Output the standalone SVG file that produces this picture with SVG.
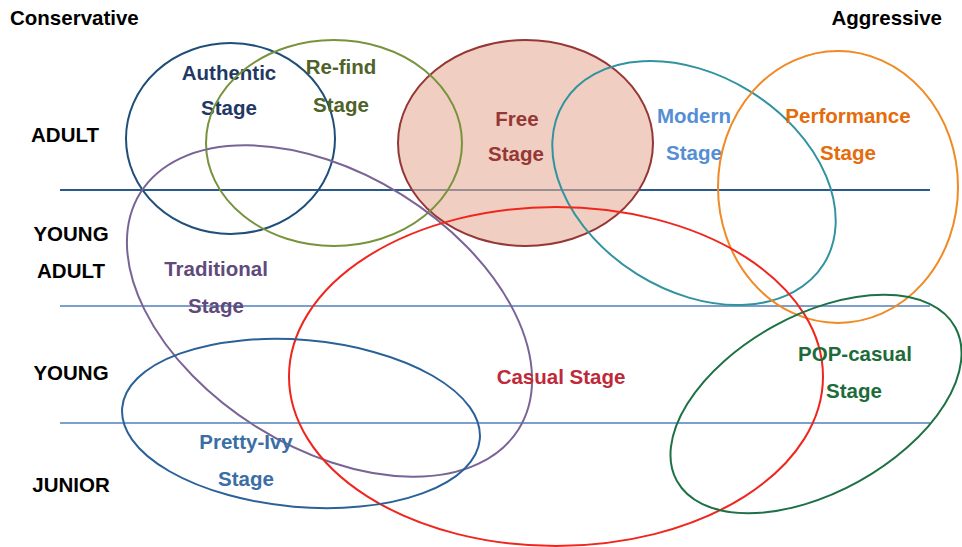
<svg xmlns="http://www.w3.org/2000/svg" width="962" height="547" viewBox="0 0 962 547">
  <style>
    text { font-family: "Liberation Sans", "Noto Sans CJK JP", Arial, sans-serif; font-weight: bold; font-size: 20.5px; }
    .axis { fill: #000000; }
    .row { fill: #000000; text-anchor: middle; }
    .lbl { text-anchor: middle; }
    .ring { fill: none; stroke-width: 2; }
    .band { stroke: #4F81BD; stroke-width: 1.5; }
    .band-main { stroke: #2A5A8C; stroke-width: 2.2; }
  </style>

  <rect width="962" height="547" fill="#ffffff"/>

  <!-- axis extremes -->
  <text class="axis" x="10" y="25">Conservative</text>
  <text class="axis" x="942" y="25" text-anchor="end">Aggressive</text>

  <!-- age rows -->
  <text class="row" x="65" y="142">ADULT</text>
  <text class="row" x="71" y="241">YOUNG</text>
  <text class="row" x="71" y="278">ADULT</text>
  <text class="row" x="71" y="380">YOUNG</text>
  <text class="row" x="71" y="492">JUNIOR</text>

  <!-- row dividers -->
  <g id="bands">
    <line class="band-main" x1="60" y1="190" x2="930" y2="190"/>
    <line class="band" x1="60" y1="306" x2="930" y2="306"/>
    <line class="band" x1="60" y1="423" x2="930" y2="423"/>
  </g>

  <g id="free">
    <ellipse cx="525.5" cy="143" rx="127.5" ry="103" fill="#E6AE98" fill-opacity="0.6" stroke="#953735" stroke-width="2"/>
    <text class="lbl" x="517" y="126" fill="#953735">Free</text>
    <text class="lbl" x="516" y="161" fill="#953735">Stage</text>
  </g>

  <g id="authentic">
    <ellipse class="ring" cx="230.5" cy="138.5" rx="104.5" ry="95.5" stroke="#1F4E79"/>
    <text class="lbl" x="229" y="80" fill="#1F3864">Authentic</text>
    <text class="lbl" x="229" y="115" fill="#1F3864">Stage</text>
  </g>

  <g id="refind">
    <ellipse class="ring" cx="334" cy="143" rx="128" ry="103" stroke="#77933C"/>
    <text class="lbl" x="341" y="74" fill="#4F6228">Re-find</text>
    <text class="lbl" x="341" y="112" fill="#4F6228">Stage</text>
  </g>

  <g id="modern">
    <ellipse class="ring" cx="0" cy="0" rx="153" ry="107.5" stroke="#31939F" transform="translate(694 183) rotate(32)"/>
    <text class="lbl" x="694" y="123" fill="#558ED5">Modern</text>
    <text class="lbl" x="694" y="160" fill="#558ED5">Stage</text>
  </g>

  <g id="performance">
    <ellipse class="ring" cx="838" cy="187" rx="120" ry="136" stroke="#F08A24"/>
    <text class="lbl" x="848" y="123" fill="#E46C0A">Performance</text>
    <text class="lbl" x="848" y="160" fill="#E46C0A">Stage</text>
  </g>

  <g id="traditional">
    <ellipse class="ring" cx="0" cy="0" rx="223" ry="137" stroke="#7A6496" transform="translate(329.5 311) rotate(32)"/>
    <text class="lbl" x="216" y="276" fill="#604A7B">Traditional</text>
    <text class="lbl" x="216" y="313" fill="#604A7B">Stage</text>
  </g>

  <g id="casual">
    <ellipse class="ring" cx="556" cy="376.5" rx="267" ry="169.5" stroke="#F0261E"/>
    <text class="lbl" x="561" y="384" fill="#BE2A3A">Casual Stage</text>
  </g>

  <g id="pretty-ivy">
    <ellipse class="ring" cx="0" cy="0" rx="179.5" ry="83.5" stroke="#2A6199" transform="translate(301 423.5) rotate(5)"/>
    <text class="lbl" x="246" y="449" fill="#3A6EA5">Pretty-Ivy</text>
    <text class="lbl" x="246" y="486" fill="#3A6EA5">Stage</text>
  </g>

  <g id="pop-casual">
    <ellipse class="ring" cx="0" cy="0" rx="159" ry="88.5" stroke="#1E7145" transform="translate(816 404) rotate(-29)"/>
    <text class="lbl" x="855" y="361" fill="#1E6B3A">POP-casual</text>
    <text class="lbl" x="854" y="398" fill="#1E6B3A">Stage</text>
  </g>
</svg>
